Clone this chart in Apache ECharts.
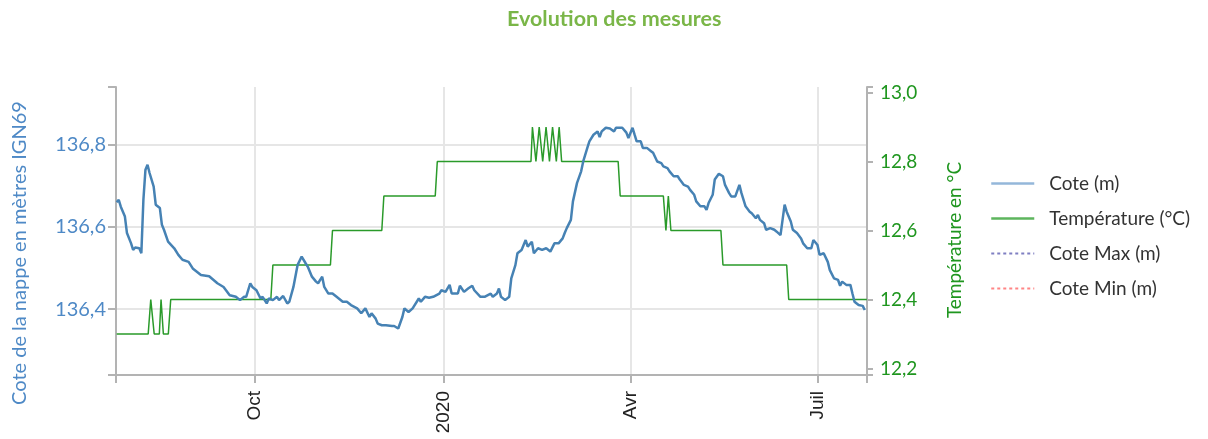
<!DOCTYPE html>
<html><head><meta charset="utf-8">
<script src="https://cdn.jsdelivr.net/npm/echarts@6/dist/echarts.min.js"></script>
<style>html,body{margin:0;padding:0;background:#fff}#c{width:1208px;height:439px}</style>
</head><body><div id="c"></div>
<script>
const coteDates = ['2019-07-26','2019-07-27','2019-07-28','2019-07-30','2019-07-31','2019-08-02','2019-08-03','2019-08-04','2019-08-06','2019-08-07','2019-08-08','2019-08-09','2019-08-10','2019-08-11','2019-08-13','2019-08-14','2019-08-16','2019-08-17','2019-08-18','2019-08-20','2019-08-23','2019-08-25','2019-08-27','2019-08-30','2019-09-01','2019-09-05','2019-09-09','2019-09-13','2019-09-16','2019-09-19','2019-09-22','2019-09-24','2019-09-26','2019-09-27','2019-09-29','2019-09-30','2019-10-02','2019-10-04','2019-10-05','2019-10-07','2019-10-08','2019-10-10','2019-10-12','2019-10-13','2019-10-15','2019-10-17','2019-10-18','2019-10-20','2019-10-22','2019-10-24','2019-10-26','2019-10-27','2019-10-29','2019-10-31','2019-11-01','2019-11-03','2019-11-04','2019-11-06','2019-11-08','2019-11-10','2019-11-13','2019-11-15','2019-11-17','2019-11-20','2019-11-22','2019-11-24','2019-11-26','2019-11-27','2019-11-29','2019-11-30','2019-12-02','2019-12-04','2019-12-07','2019-12-08','2019-12-10','2019-12-12','2019-12-13','2019-12-15','2019-12-17','2019-12-20','2019-12-21','2019-12-23','2019-12-25','2019-12-27','2019-12-30','2019-12-31','2020-01-02','2020-01-04','2020-01-05','2020-01-08','2020-01-09','2020-01-11','2020-01-13','2020-01-15','2020-01-16','2020-01-19','2020-01-21','2020-01-24','2020-01-25','2020-01-27','2020-01-28','2020-01-29','2020-01-31','2020-02-02','2020-02-03','2020-02-05','2020-02-06','2020-02-08','2020-02-10','2020-02-11','2020-02-13','2020-02-14','2020-02-16','2020-02-18','2020-02-20','2020-02-22','2020-02-24','2020-02-26','2020-02-28','2020-02-29','2020-03-01','2020-03-03','2020-03-04','2020-03-06','2020-03-08','2020-03-09','2020-03-11','2020-03-12','2020-03-14','2020-03-16','2020-03-17','2020-03-18','2020-03-20','2020-03-22','2020-03-24','2020-03-25','2020-03-28','2020-03-30','2020-03-31','2020-04-02','2020-04-03','2020-04-04','2020-04-06','2020-04-07','2020-04-09','2020-04-11','2020-04-12','2020-04-14','2020-04-16','2020-04-17','2020-04-19','2020-04-20','2020-04-22','2020-04-24','2020-04-25','2020-04-27','2020-04-29','2020-04-30','2020-05-02','2020-05-03','2020-05-05','2020-05-07','2020-05-08','2020-05-09','2020-05-11','2020-05-12','2020-05-14','2020-05-16','2020-05-17','2020-05-19','2020-05-20','2020-05-22','2020-05-24','2020-05-25','2020-05-27','2020-05-29','2020-05-30','2020-06-01','2020-06-02','2020-06-03','2020-06-05','2020-06-06','2020-06-08','2020-06-10','2020-06-11','2020-06-13','2020-06-15','2020-06-16','2020-06-18','2020-06-19','2020-06-21','2020-06-23','2020-06-24','2020-06-26','2020-06-28','2020-06-29','2020-07-01','2020-07-02','2020-07-04','2020-07-06','2020-07-07','2020-07-09','2020-07-11','2020-07-12','2020-07-13','2020-07-15','2020-07-17','2020-07-18','2020-07-19','2020-07-21','2020-07-23','2020-07-24'];
const coteValues = [136.660,136.666,136.649,136.625,136.585,136.560,136.544,136.550,136.548,136.536,136.666,136.739,136.751,136.731,136.698,136.654,136.646,136.605,136.593,136.564,136.548,136.532,136.520,136.515,136.499,136.483,136.480,136.463,136.454,136.434,136.430,136.422,136.430,136.430,136.463,136.454,136.446,136.426,136.430,136.414,136.426,136.422,136.430,136.422,136.432,136.414,136.418,136.454,136.507,136.528,136.511,136.503,136.479,136.467,136.463,136.479,136.454,136.438,136.438,136.430,136.418,136.418,136.410,136.402,136.390,136.402,136.381,136.390,136.377,136.365,136.361,136.361,136.359,136.359,136.353,136.381,136.402,136.393,136.402,136.426,136.418,136.430,136.428,136.430,136.438,136.446,136.442,136.459,136.438,136.438,136.457,136.442,136.450,136.457,136.446,136.430,136.430,136.438,136.430,136.438,136.450,136.430,136.422,136.430,136.475,136.507,136.536,136.544,136.568,136.552,136.564,136.536,136.548,136.544,136.548,136.540,136.560,136.560,136.572,136.585,136.597,136.617,136.662,136.707,136.735,136.759,136.792,136.808,136.824,136.832,136.818,136.832,136.841,136.839,136.832,136.841,136.841,136.829,136.816,136.841,136.824,136.808,136.808,136.792,136.792,136.784,136.780,136.759,136.755,136.747,136.743,136.735,136.723,136.723,136.715,136.702,136.698,136.690,136.678,136.662,136.650,136.650,136.641,136.658,136.678,136.715,136.729,136.723,136.702,136.682,136.674,136.674,136.702,136.682,136.650,136.637,136.633,136.621,136.629,136.617,136.609,136.593,136.597,136.593,136.589,136.580,136.654,136.637,136.613,136.593,136.585,136.572,136.560,136.548,136.548,136.568,136.556,136.532,136.536,136.515,136.495,136.475,136.471,136.457,136.467,136.459,136.459,136.438,136.418,136.410,136.408,136.398];
const tempDates = ['2019-07-26','2019-08-10 08:00','2019-08-11 14:00','2019-08-13 06:00','2019-08-15 18:00','2019-08-16 14:00','2019-08-17 17:00','2019-08-20 03:00','2019-08-21 07:00','2019-10-09','2019-10-10','2019-11-07','2019-11-08','2019-12-02','2019-12-03','2019-12-28','2019-12-29','2020-02-12 14:00','2020-02-13 07:00','2020-02-15 00:00','2020-02-16 14:00','2020-02-18 07:00','2020-02-19 22:00','2020-02-21 14:00','2020-02-23 02:00','2020-02-24 22:00','2020-02-26 07:00','2020-02-27 12:00','2020-03-26','2020-03-27','2020-04-17','2020-04-18 06:00','2020-04-19 10:00','2020-04-20 00:00','2020-04-20 16:00','2020-05-15','2020-05-16','2020-06-16','2020-06-17','2020-07-25'];
const tempValues = [12.3,12.3,12.4,12.3,12.3,12.4,12.3,12.3,12.4,12.4,12.5,12.5,12.6,12.6,12.7,12.7,12.8,12.8,12.9,12.8,12.9,12.8,12.9,12.8,12.9,12.8,12.9,12.8,12.8,12.7,12.7,12.6,12.7,12.7,12.6,12.6,12.5,12.5,12.4,12.4];
const coteMaxValues = [];
const coteMinValues = [];
const tickDates = ['2019-10-01','2020-01-01','2020-04-01','2020-07-01'];
const tickLabels = ['Oct','2020','Avr','Juil'];
const leftTickValues = [136.4, 136.6, 136.8];
const rightTickValues = [12.2, 12.4, 12.6, 12.8, 13.0];
const xStart = '2019-07-25 16:00';
const xEnd = '2020-07-25 02:00';
const leftMin = 136.24, leftMax = 136.94;
const rightMin = 12.181, rightMax = 13.016;

const P = s => echarts.time.parse(s).getTime();
const tickTimes = tickDates.map(P);
const fmtComma = v => v.toFixed(1).replace('.', ',');
const axisGrey = '#b3b3b3';
const blueTxt = '#4e89c6';
const greenTxt = '#1f961f';
const hiddenSymbol = {opacity: 0};

const chart = echarts.init(document.getElementById('c'), null, {renderer: 'canvas'});
chart.setOption({
  animation: false,
  backgroundColor: '#fff',
  title: {
    text: 'Evolution des mesures', left: 502, top: 3,
    textStyle: {color: '#7ab648', fontSize: 21.5, fontWeight: 'bold', fontFamily: 'Lato'}
  },
  legend: {
    orient: 'vertical', left: 985, top: 169, itemWidth: 43, itemHeight: 14, itemGap: 16,
    itemStyle: hiddenSymbol,
    textStyle: {color: '#333', fontSize: 19, fontFamily: 'Lato', padding: [0, 0, 0, 10]},
    data: [
      {name: 'Cote (m)', itemStyle: hiddenSymbol, lineStyle: {color: '#94b7da', width: 2.5}},
      {name: 'Température (°C)', itemStyle: hiddenSymbol, lineStyle: {color: '#5db55d', width: 2.5}},
      {name: 'Cote Max (m)', itemStyle: hiddenSymbol, lineStyle: {color: '#7f7fc2', width: 2, type: [3, 3]}},
      {name: 'Cote Min (m)', itemStyle: hiddenSymbol, lineStyle: {color: '#ff8585', width: 2, type: [3, 3]}}
    ]
  },
  grid: {left: 116, right: 341, top: 87, bottom: 64, containLabel: false},
  xAxis: {
    type: 'value', min: P(xStart), max: P(xEnd),
    axisLine: {lineStyle: {color: axisGrey, width: 2}},
    axisTick: {show: true, length: 8, lineStyle: {color: axisGrey, width: 2},
      customValues: [P(xStart)].concat(tickTimes, [P(xEnd)])},
    axisLabel: {
      customValues: tickTimes, rotate: 90, margin: 16, color: '#222',
      fontSize: 19, fontFamily: 'Liberation Sans',
      formatter: v => {
        for (let i = 0; i < tickTimes.length; i++) if (Math.abs(tickTimes[i] - v) < 3600e3) return tickLabels[i];
        return '';
      }
    },
    splitLine: {show: true, lineStyle: {color: '#e6e6e6', width: 2}}
  },
  yAxis: [
    {
      type: 'value', position: 'left', min: leftMin, max: leftMax,
      name: 'Cote de la nappe en mètres IGN69', nameLocation: 'middle', nameGap: 86,
      nameTextStyle: {color: blueTxt, fontSize: 20, fontFamily: 'Lato', padding: [0, 44, 0, 0]},
      axisLine: {show: true, lineStyle: {color: axisGrey, width: 2}},
      axisTick: {show: true, length: 8, lineStyle: {color: axisGrey, width: 2},
        customValues: [leftMin].concat(leftTickValues, [leftMax])},
      axisLabel: {customValues: leftTickValues, formatter: fmtComma, color: blueTxt, fontSize: 20, fontFamily: 'Lato', margin: 10},
      splitLine: {show: false}
    },
    {
      type: 'value', position: 'right', min: rightMin, max: rightMax,
      name: 'Température en °C', nameLocation: 'middle', nameGap: 78,
      nameTextStyle: {color: greenTxt, fontSize: 19, fontFamily: 'Lato', padding: [0, 18, 0, 0]},
      axisLine: {show: true, lineStyle: {color: axisGrey, width: 2}},
      axisTick: {show: true, length: 6, lineStyle: {color: axisGrey, width: 2},
        customValues: [rightMin].concat(rightTickValues, [rightMax])},
      axisLabel: {customValues: rightTickValues, formatter: fmtComma, color: greenTxt, fontSize: 19, fontFamily: 'Lato', margin: 13},
      splitLine: {show: false}
    },
    {
      type: 'value', position: 'left', min: leftMin, max: leftMax,
      axisLine: {show: false},
      axisTick: {show: false, customValues: leftTickValues},
      axisLabel: {show: false, customValues: leftTickValues},
      splitLine: {show: true, lineStyle: {color: '#e6e6e6', width: 2}}
    }
  ],
  series: [
    {
      name: 'Cote (m)', type: 'line', yAxisIndex: 0, symbol: 'none', z: 3,
      lineStyle: {color: '#4682b4', width: 2.5}, itemStyle: {color: '#4682b4'},
      data: coteDates.map((d, i) => [P(d), coteValues[i]])
    },
    {
      name: 'Température (°C)', type: 'line', yAxisIndex: 1, symbol: 'none', z: 2,
      lineStyle: {color: '#2a9a2a', width: 1.5}, itemStyle: {color: '#2a9a2a'},
      data: tempDates.map((d, i) => [P(d), tempValues[i]])
    },
    {
      name: 'Cote Max (m)', type: 'line', yAxisIndex: 0, symbol: 'none',
      lineStyle: {color: '#7f7fc2', width: 2, type: 'dotted'}, itemStyle: {color: '#7f7fc2'},
      data: coteMaxValues
    },
    {
      name: 'Cote Min (m)', type: 'line', yAxisIndex: 0, symbol: 'none',
      lineStyle: {color: '#ff8585', width: 2, type: 'dotted'}, itemStyle: {color: '#ff8585'},
      data: coteMinValues
    }
  ]
});
</script>
</body></html>
